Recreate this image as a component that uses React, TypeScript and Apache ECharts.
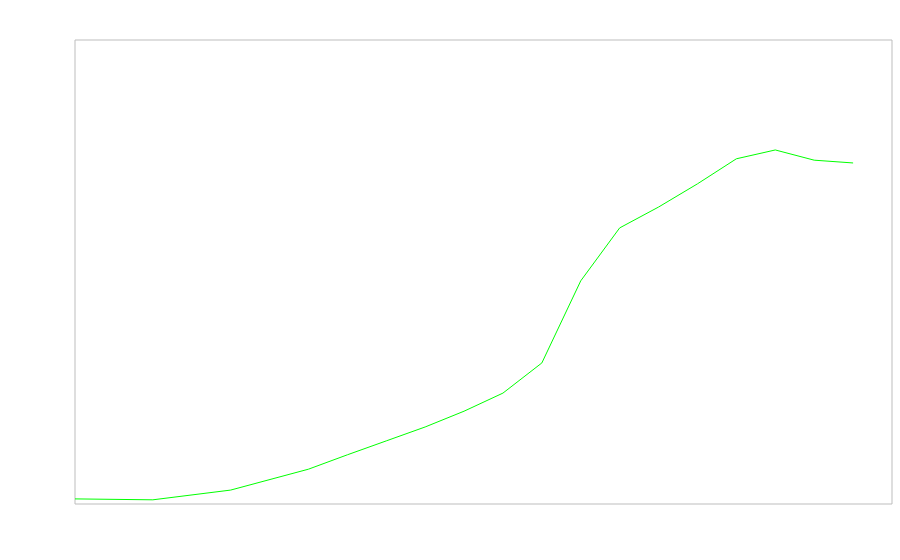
import React, { useEffect, useRef } from "react";
import * as echarts from "echarts";

const xPositions = [0, 2, 4, 6, 7, 8, 9, 10, 11, 12, 13, 14, 15, 16, 17, 18, 19, 20];
const seriesValues = [1.1, 0.9, 3.0, 7.5, 10.6, 13.6, 16.6, 20.0, 23.9, 30.4, 48.1, 59.5, 64.0, 69.0, 74.4, 76.3, 74.1, 73.5];

export default function App() {
  const ref = useRef<HTMLDivElement>(null);
  useEffect(() => {
    if (!ref.current) return;
    const chart = echarts.init(ref.current, null, { renderer: "svg" });
    const data = xPositions.map((x, i) => [x, seriesValues[i]]);
    chart.setOption({
      animation: false,
      backgroundColor: "#ffffff",
      grid: {
        left: 75,
        top: 40,
        right: 8,
        bottom: 56,
        show: true,
        borderColor: "#bdbdbd",
        borderWidth: 1,
        backgroundColor: "transparent",
      },
      xAxis: {
        type: "value",
        min: 0,
        max: 21,
        show: false,
        splitLine: { show: false },
      },
      yAxis: {
        type: "value",
        min: 0,
        max: 100,
        show: false,
        splitLine: { show: false },
      },
      series: [
        {
          type: "line",
          data,
          showSymbol: false,
          symbol: "none",
          lineStyle: { color: "#00ff00", width: 1 },
          itemStyle: { color: "#00ff00" },
        },
      ],
    });
    return () => chart.dispose();
  }, []);
  return (
    <div
      ref={ref}
      style={{ position: "absolute", left: 0, top: 0, width: 900, height: 560 }}
    />
  );
}
